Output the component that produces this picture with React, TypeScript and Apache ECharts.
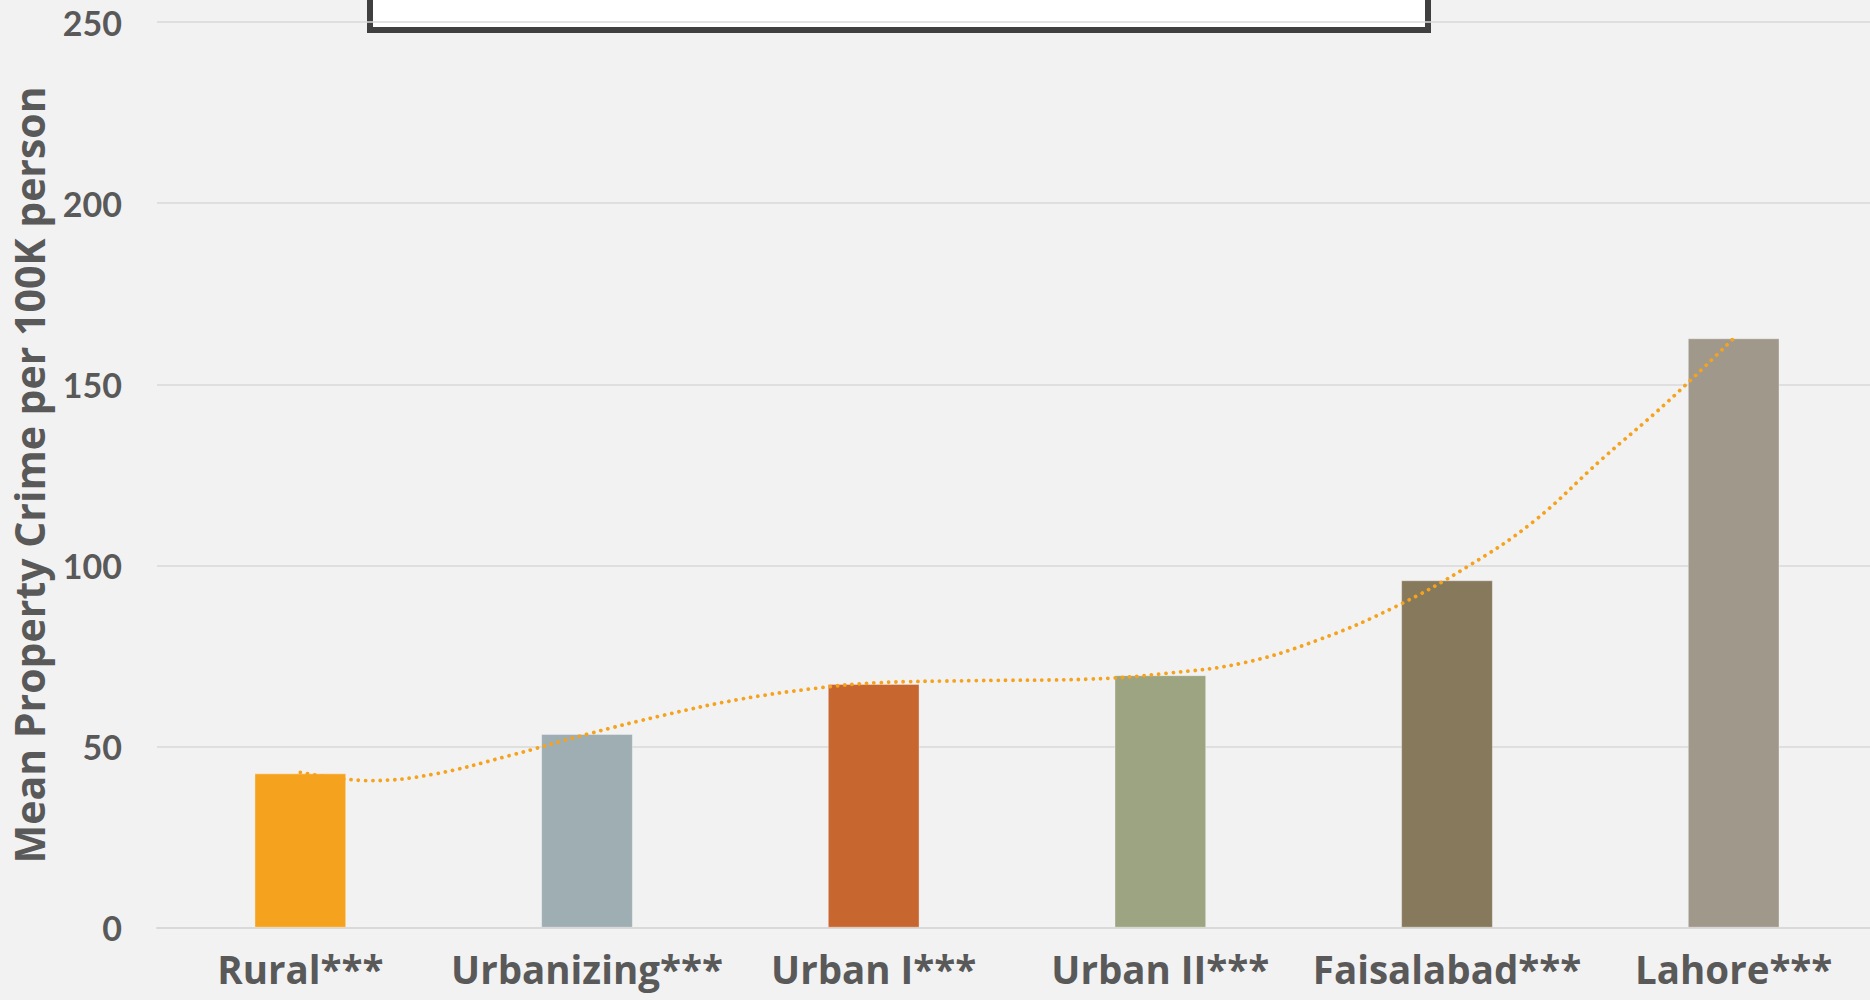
import React, { useEffect, useRef } from "react";
import * as echarts from "echarts";

const categories = ["Rural***", "Urbanizing***", "Urban I***", "Urban II***", "Faisalabad***", "Lahore***"];
const values = [42.6, 53.5, 67.3, 69.7, 95.9, 162.7];
const barColors = ["#F5A31E", "#9EAEB2", "#C8662F", "#9DA481", "#86795C", "#A0988B"];
const yTicks = [0, 50, 100, 150, 200, 250];
// trend line: [category position, value]
const trendX = [0, 0.24, 0.46, 0.73, 1.0, 1.27, 1.53, 1.8, 2.01, 2.35, 2.75, 3.02, 3.29, 3.55, 3.82, 4.07, 4.3, 4.54, 4.77, 5.0];
const trendY = [42.9, 40.6, 42.3, 47.5, 53.4, 58.7, 63.0, 66.1, 67.6, 68.2, 68.6, 70.2, 73.1, 79.4, 88.6, 99.6, 112, 129.3, 145.2, 162.7];
const yTitle = "Mean Property Crime per 100K person";

const FONT = "'Open Sans', Lato, sans-serif";
const TICKFONT = "Lato, 'Open Sans', sans-serif";
const TEXT = "#595959";

export default function App() {
  const ref = useRef<HTMLDivElement>(null);
  useEffect(() => {
    if (!ref.current) return;
    const chart = echarts.init(ref.current, null, { renderer: "svg" });
    chart.setOption({
      animation: false,
      backgroundColor: "#F2F2F2",
      grid: { left: 156.6, right: 0, top: 22, bottom: 72.3, containLabel: false },
      xAxis: [
        {
          type: "category",
          data: categories,
          axisLine: { show: true, lineStyle: { color: "#D9D9D9", width: 2 } },
          axisTick: { show: false },
          axisLabel: { color: TEXT, fontFamily: FONT, fontWeight: "bold", fontSize: 38.5, lineHeight: 38, margin: 22, interval: 0 },
        },
        { type: "value", min: -0.5, max: 5.5, show: false },
      ],
      yAxis: {
        type: "value",
        min: yTicks[0],
        max: yTicks[yTicks.length - 1],
        interval: 50,
        name: yTitle,
        nameLocation: "middle",
        nameGap: 108,
        nameTextStyle: { color: TEXT, fontFamily: FONT, fontWeight: "bold", fontSize: 41 },
        axisLine: { show: false },
        axisTick: { show: false },
        splitLine: { lineStyle: { color: "#D9D9D9", width: 1.5 } },
        axisLabel: { color: TEXT, fontFamily: TICKFONT, fontWeight: "bold", fontSize: 34, margin: 35 },
      },
      series: [
        {
          type: "bar",
          barWidth: "32%",
          data: values.map((v, i) => ({ value: v, itemStyle: { color: barColors[i], borderColor: "rgba(255,255,255,0.35)", borderWidth: 1 } })),
        },
        {
          type: "line",
          xAxisIndex: 1,
          smooth: 0.4,
          symbol: "none",
          data: trendX.map((x, i) => [x, trendY[i]]),
          lineStyle: { color: "#F5A31E", width: 3.8, type: [0.01, 7.3], cap: "round" },
          z: 5,
        },
      ],
      graphic: [
        {
          type: "rect",
          z: -1,
          shape: { x: 370, y: -60, width: 1058, height: 90 },
          style: { fill: "#FFFFFF", stroke: "#404040", lineWidth: 6 },
        },
      ],
    });
    return () => chart.dispose();
  }, []);
  return <div ref={ref} style={{ position: "fixed", left: 0, top: 0, width: 1877, height: 1000 }} />;
}
